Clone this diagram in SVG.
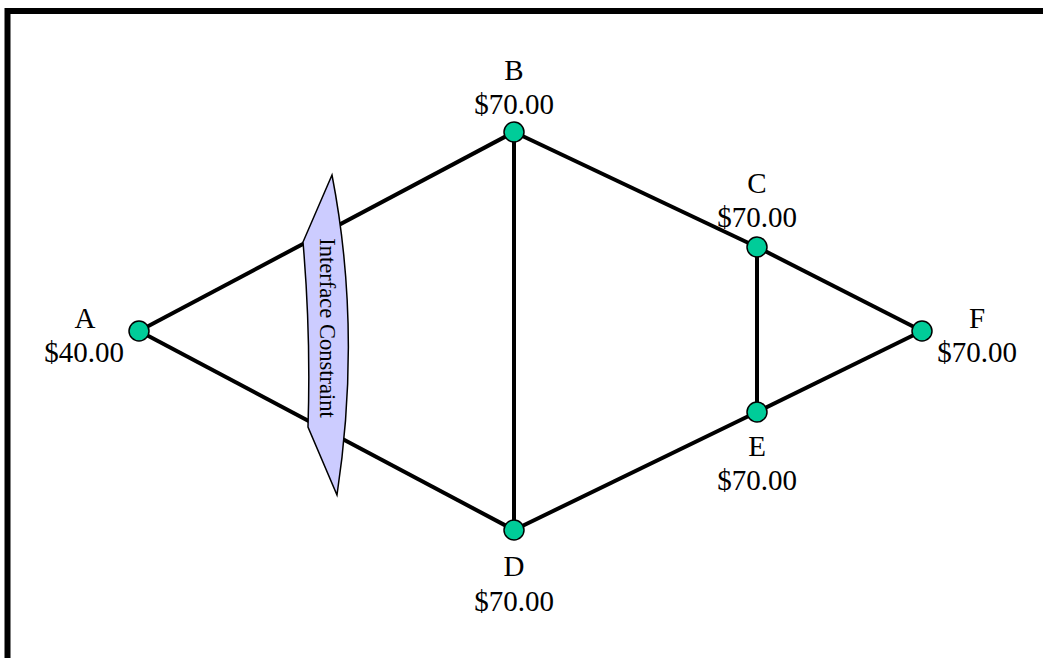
<svg xmlns="http://www.w3.org/2000/svg" width="1043" height="658" viewBox="0 0 1043 658">
<style>
.edge{stroke:#000;stroke-width:4;fill:none}
.node{fill:#00CC99;stroke:#000;stroke-width:1.5}
.lbl{font-family:"Liberation Serif",serif;font-size:29px;fill:#000;text-anchor:middle}
.ic{font-family:"Liberation Serif",serif;font-size:22.5px;fill:#000;text-anchor:middle}
</style>
<path d="M7.5,670 V11 H1060" fill="none" stroke="#000" stroke-width="6"/>
<g id="connectors">
<line class="edge" x1="139" y1="331" x2="514" y2="132"/>
<line class="edge" x1="139" y1="331" x2="514" y2="530"/>
<line class="edge" x1="514" y1="132" x2="514" y2="530"/>
<line class="edge" x1="514" y1="132" x2="757" y2="247"/>
<line class="edge" x1="514" y1="530" x2="757" y2="412"/>
<line class="edge" x1="757" y1="247" x2="757" y2="412"/>
<line class="edge" x1="757" y1="247" x2="922" y2="331"/>
<line class="edge" x1="757" y1="412" x2="922" y2="331"/>
</g>
<g id="constraint">
<path d="M332,175 Q362,330 337,495 L308,427 Q311,335 303,242 Z" fill="#CCCCFF" stroke="#000" stroke-width="1.5"/>
<text class="ic" transform="translate(320,328) rotate(90)">Interface Constraint</text>
</g>
<g id="A"><circle class="node" cx="139" cy="331" r="10"/><text class="lbl" x="85" y="328">A</text><text class="lbl" x="84" y="362">$40.00</text></g>
<g id="B"><circle class="node" cx="514" cy="132" r="10"/><text class="lbl" x="514" y="80">B</text><text class="lbl" x="514" y="114">$70.00</text></g>
<g id="C"><circle class="node" cx="757" cy="247" r="10"/><text class="lbl" x="757" y="193">C</text><text class="lbl" x="757" y="227">$70.00</text></g>
<g id="D"><circle class="node" cx="514" cy="530" r="10"/><text class="lbl" x="514" y="576">D</text><text class="lbl" x="514" y="611">$70.00</text></g>
<g id="E"><circle class="node" cx="757" cy="412" r="10"/><text class="lbl" x="757" y="456">E</text><text class="lbl" x="757" y="490">$70.00</text></g>
<g id="F"><circle class="node" cx="922" cy="331" r="10"/><text class="lbl" x="977" y="328">F</text><text class="lbl" x="977" y="362">$70.00</text></g>
</svg>
